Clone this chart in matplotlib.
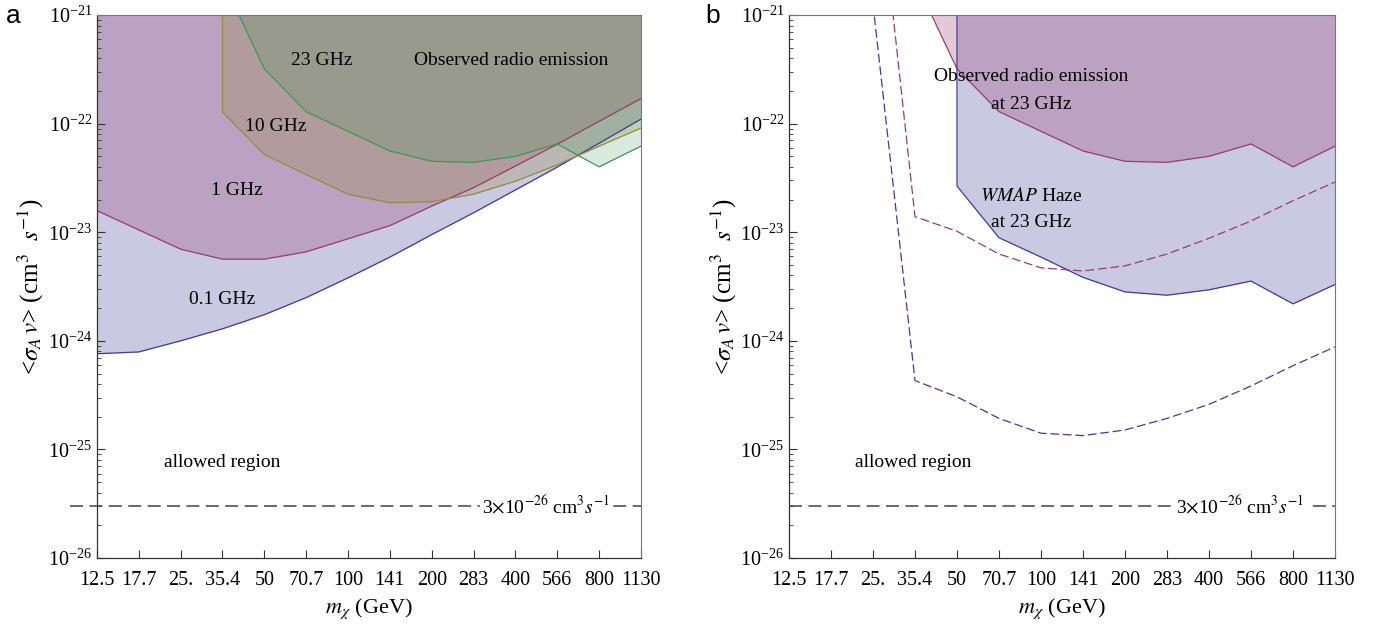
import matplotlib
matplotlib.use("Agg")
import matplotlib.pyplot as plt
from matplotlib.ticker import FixedLocator, NullFormatter

plt.rcParams["font.family"] = ["Liberation Serif", "DejaVu Serif"]
plt.rcParams["mathtext.fontset"] = "stix"

# dark matter mass grid (GeV) and the labels printed under it
mass = [12.5, 17.68, 25.0, 35.36, 50.0, 70.71, 100.0, 141.4, 200.0, 282.8, 400.0, 565.7, 800.0, 1131.0]
mass_labels = ["12.5", "17.7", "25.", "35.4", "50", "70.7", "100", "141", "200", "283",
               "400", "566", "800", "1130"]
decades = [1e-26, 1e-25, 1e-24, 1e-23, 1e-22, 1e-21]

# panel a: upper limits on <sigma v> (cm^3/s) per frequency
lim_01ghz = [7.6e-25, 7.9e-25, 1.0e-24, 1.29e-24, 1.74e-24, 2.5e-24, 3.8e-24, 5.9e-24,
             9.5e-24, 1.51e-23, 2.45e-23, 3.98e-23, 6.6e-23, 1.10e-22]
lim_1ghz = [1.58e-23, 1.05e-23, 6.98e-24, 5.65e-24, 5.65e-24, 6.6e-24, 8.7e-24, 1.15e-23,
            1.74e-23, 2.57e-23, 4.07e-23, 6.46e-23, 1.05e-22, 1.70e-22]
# 10 and 23 GHz start at 35.4 GeV
lim_10ghz = [1.28e-22, 5.2e-23, 3.4e-23, 2.24e-23, 1.87e-23, 1.91e-23, 2.24e-23, 2.95e-23,
             4.17e-23, 6.2e-23, 9.1e-23]
lim_23ghz = [2.1e-21, 3.2e-22, 1.29e-22, 8.5e-23, 5.6e-23, 4.5e-23, 4.4e-23, 5.0e-23,
             6.5e-23, 4.0e-23, 6.2e-23]

# panel b: WMAP haze limit (from 50 GeV) and projected dashed curves (from 25 GeV)
lim_haze = [2.66e-23, 8.9e-24, 5.9e-24, 3.84e-24, 2.82e-24, 2.63e-24, 2.95e-24, 3.55e-24,
            2.19e-24, 3.3e-24]
dash_radio = [5e-20, 1.39e-23, 1.02e-23, 6.3e-24, 4.7e-24, 4.4e-24, 4.9e-24, 6.3e-24,
              8.8e-24, 1.27e-23, 1.95e-23, 2.9e-23]
dash_haze = [1.26e-21, 4.3e-25, 3.05e-25, 1.93e-25, 1.41e-25, 1.34e-25, 1.51e-25, 1.93e-25,
             2.6e-25, 3.84e-25, 5.9e-25, 8.8e-25]

thermal = 3e-26
ymin, ymax = 1e-26, 1e-21

c_blue = (0.24, 0.24, 0.6)
c_mag = (0.6, 0.24, 0.4428)
c_olive = (0.6, 0.547, 0.24)
c_green = (0.24, 0.6, 0.3369)
fill_alpha = 0.28
green_alpha = 0.2

fig = plt.figure(figsize=(13.75, 6.26), dpi=100)
ax_a = fig.add_axes([0.0705, 0.1086, 0.3956, 0.8674])
ax_b = fig.add_axes([0.5738, 0.1086, 0.3971, 0.8674])


def style_axes(ax, ylab_x):
    ax.set_xscale("log")
    ax.set_yscale("log")
    ax.set_xlim(mass[0], mass[-1])
    ax.set_ylim(ymin, ymax)
    ax.set_xticks(mass)
    ax.set_xticklabels(mass_labels)
    ax.xaxis.set_minor_locator(FixedLocator([]))
    ax.xaxis.set_minor_formatter(NullFormatter())
    ax.yaxis.set_major_locator(FixedLocator(decades))
    minors = [k * d for d in decades[:-1] for k in range(2, 10)]
    ax.yaxis.set_minor_locator(FixedLocator(minors))
    ax.yaxis.set_minor_formatter(NullFormatter())
    ax.tick_params(axis="both", which="both", direction="in", top=False, right=False,
                   labelsize=14.5, colors="#333333", labelcolor="black")
    ax.tick_params(axis="both", which="major", length=6, width=0.8)
    ax.tick_params(axis="x", which="major", pad=9)
    ax.tick_params(axis="y", which="minor", length=3, width=0.6)
    for side in ("top", "right"):
        ax.spines[side].set_color("#777777")
        ax.spines[side].set_linewidth(0.8)
    for side in ("left", "bottom"):
        ax.spines[side].set_color("#333333")
        ax.spines[side].set_linewidth(0.9)
    ax.set_xlabel(r"$m_\chi$ (GeV)", fontsize=16)
    ax.set_ylabel(r"<$\sigma_A\,v$> (cm$^3$  $s^{-1}$)", fontsize=18)
    ax.xaxis.set_label_coords(0.5, -0.07)
    ax.yaxis.set_label_coords(ylab_x, 0.5)


def thermal_line(ax, x0):
    ax.plot([x0, 1.0], [thermal, thermal], transform=ax.get_yaxis_transform(),
            color="#444444", lw=1.1, dashes=(8.5, 4.2), clip_on=False, zorder=5)
    ax.text(0.944, thermal, r"3$\times$10$^{-26}$ cm$^3$$s^{-1}$", transform=ax.get_yaxis_transform(),
            ha="right", va="center", fontsize=14, zorder=6,
            bbox=dict(facecolor="white", edgecolor="none", pad=1.5))


# ---- panel a ----
style_axes(ax_a, -0.094)
m_hi = mass[3:]
ax_a.fill_between(mass, lim_01ghz, ymax, color=c_blue, alpha=fill_alpha, lw=0)
ax_a.fill_between(mass, lim_1ghz, ymax, color=c_mag, alpha=fill_alpha, lw=0)
ax_a.fill_between(m_hi, lim_10ghz, ymax, color=c_olive, alpha=fill_alpha, lw=0)
ax_a.fill_between(m_hi, lim_23ghz, ymax, color=c_green, alpha=green_alpha, lw=0)
ax_a.plot(mass, lim_01ghz, color=c_blue, lw=0.9)
ax_a.plot(mass, lim_1ghz, color=c_mag, lw=0.9)
ax_a.plot([m_hi[0]] + m_hi, [ymax] + lim_10ghz, color=c_olive, lw=0.9)
ax_a.plot(m_hi, lim_23ghz, color=c_green, lw=0.9)
thermal_line(ax_a, -0.05)

txt = dict(transform=ax_a.transAxes, ha="center", va="center", fontsize=14)
ax_a.text(0.414, 0.917, "23 GHz", **txt)
ax_a.text(0.761, 0.917, "Observed radio emission", **txt)
ax_a.text(0.329, 0.794, "10 GHz", **txt)
ax_a.text(0.257, 0.676, "1 GHz", **txt)
ax_a.text(0.230, 0.477, "0.1 GHz", **txt)
ax_a.text(0.230, 0.175, "allowed region", **txt)

# ---- panel b ----
style_axes(ax_b, -0.092)
m_haze = mass[4:]
m_dash = mass[2:]
ax_b.fill_between(m_haze, lim_haze, ymax, color=c_blue, alpha=fill_alpha, lw=0)
ax_b.fill_between(m_hi, lim_23ghz, ymax, color=c_mag, alpha=fill_alpha, lw=0)
ax_b.plot(m_hi, lim_23ghz, color=c_mag, lw=0.9)
ax_b.plot([m_haze[0]] + m_haze, [ymax] + lim_haze, color=c_blue, lw=0.9)
ax_b.plot(m_dash, dash_radio, color=c_mag, lw=0.9, dashes=(7, 3))
ax_b.plot(m_dash, dash_haze, color=c_blue, lw=0.9, dashes=(7, 3))
thermal_line(ax_b, 0.0)

txt = dict(transform=ax_b.transAxes, ha="center", va="center", fontsize=14)
ax_b.text(0.443, 0.886, "Observed radio emission", **txt)
ax_b.text(0.443, 0.836, "at 23 GHz", **txt)
ax_b.text(0.443, 0.667, r"$\mathit{WMAP}$ Haze", **txt)
ax_b.text(0.443, 0.617, "at 23 GHz", **txt)
ax_b.text(0.227, 0.175, "allowed region", **txt)

fig.text(0.004, 0.975, "a", fontsize=19, family="Liberation Sans", va="center")
fig.text(0.513, 0.975, "b", fontsize=19, family="Liberation Sans", va="center")

fig.savefig("out.png", dpi=100)
